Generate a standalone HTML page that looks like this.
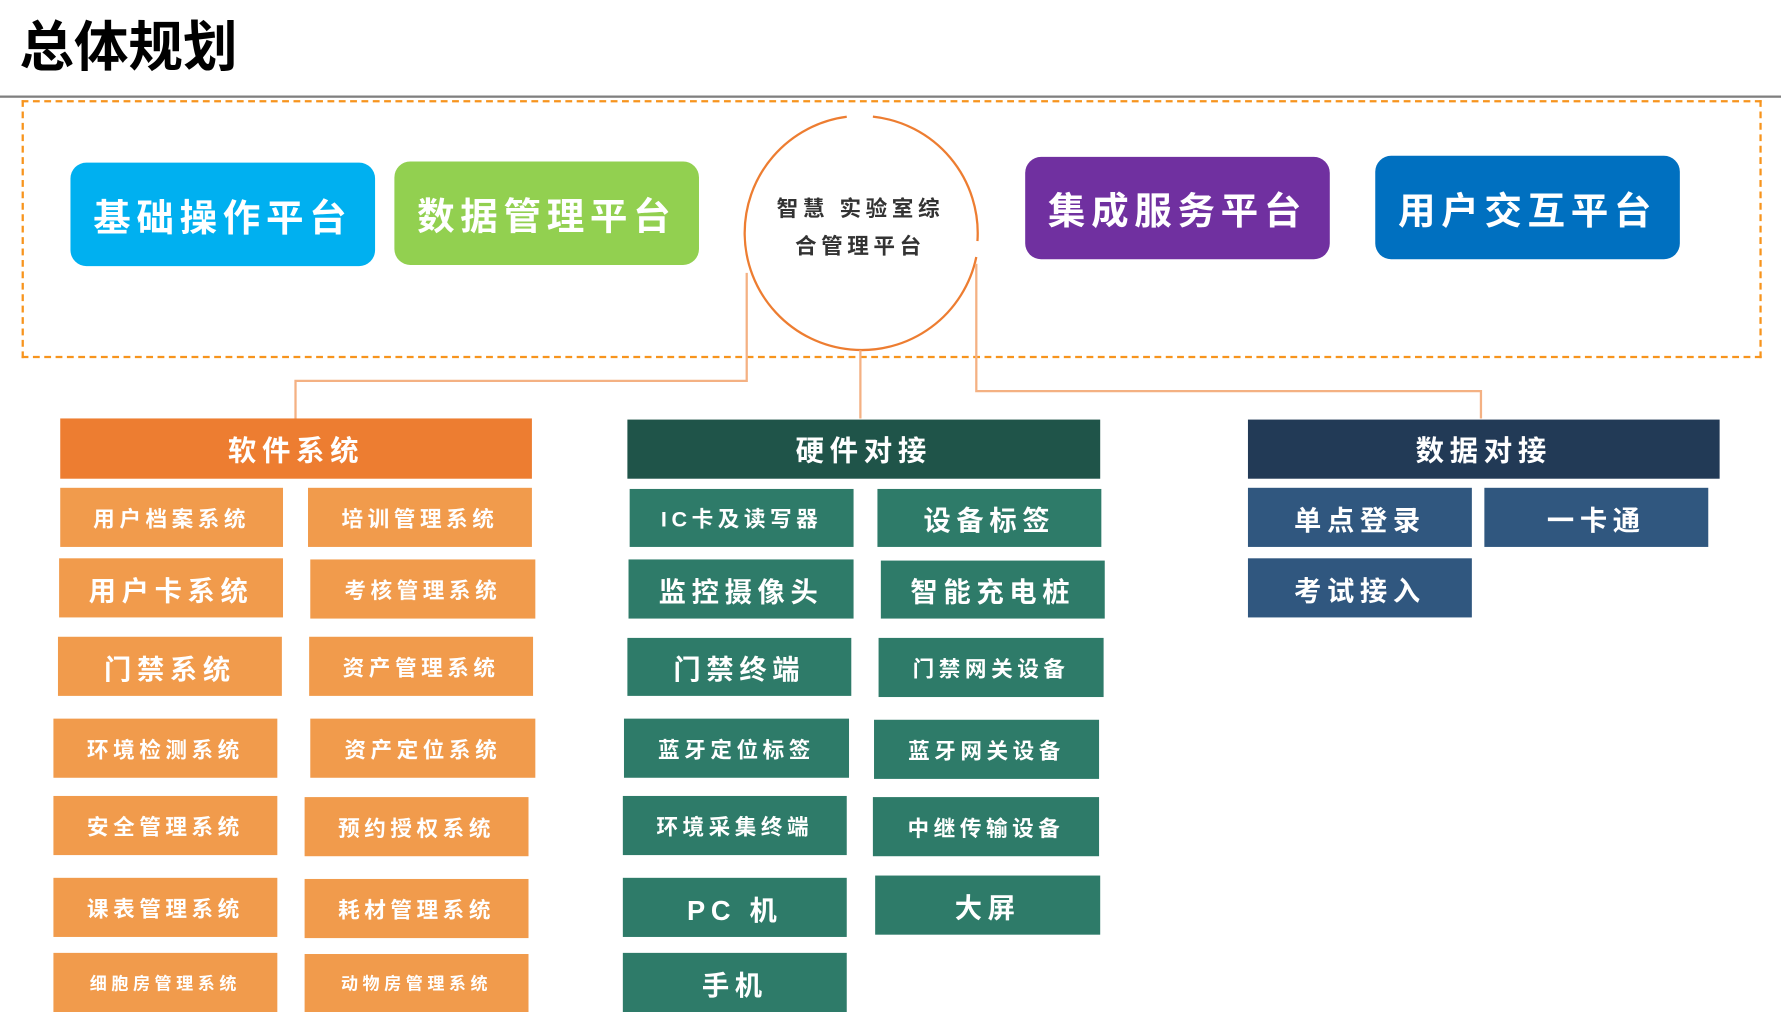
<!DOCTYPE html>
<html><head><meta charset="utf-8"><style>
html,body{margin:0;padding:0;background:#fff;width:1781px;height:1012px;overflow:hidden}
#s{position:absolute;left:0;top:0;width:1567px;height:890px;transform:scale(1.13657,1.13708);transform-origin:0 0;font-family:"Liberation Sans","Noto Sans CJK SC",sans-serif}
.b{position:absolute;display:flex;align-items:center;justify-content:center;color:#fff;font-weight:bold;white-space:nowrap}
.o{background:#f19b4c;font-size:19px;letter-spacing:4px}
.g{background:#2e7b69;font-size:19px;letter-spacing:4px}
.d{background:#30577f;font-size:24px;letter-spacing:5px}
.L{font-size:24px;letter-spacing:5px}
.S{font-size:15px;letter-spacing:4px}
.p{border-radius:14px;font-size:33px;letter-spacing:5px}
.h{font-size:25px;letter-spacing:5px}
</style></head><body><div id="s">
<div style="position:absolute;left:17px;top:2px;font-size:48px;font-weight:bold;color:#000;font-family:'Noto Sans CJK SC',sans-serif">总体规划</div>
<div style="position:absolute;left:0;top:84px;width:1567px;height:2px;background:#7f7f7f"></div>
<div style="position:absolute;left:19px;top:88px;width:1527px;height:223px;border:2.5px dashed #f7941d"></div>
<svg style="position:absolute;left:0;top:0" width="1567" height="890">
<path d="M745 102.7 A103 103 0 1 0 859 226 M768 102.6 A103 103 0 0 1 860 212" fill="none" stroke="#ed7d31" stroke-width="2"/>
<g fill="none" stroke="#f4b183" stroke-width="2">
<path d="M657 240 V335 H260 V368"/>
<path d="M757 308 V368"/>
<path d="M859 232 V344 H1303 V368"/>
</g></svg>
<div style="position:absolute;left:653px;top:168px;width:208px;text-align:center;font-size:19px;font-weight:bold;color:#333;letter-spacing:4px;line-height:33px">智慧 实验室综<br>合管理平台</div>
<div class="b p" style="left:62px;top:143px;width:268px;height:91px;background:#00b0f0">基础操作平台</div>
<div class="b p" style="left:347px;top:142px;width:268px;height:91px;background:#92d050">数据管理平台</div>
<div class="b p" style="left:902px;top:138px;width:268px;height:90px;background:#7030a0">集成服务平台</div>
<div class="b p" style="left:1210px;top:137px;width:268px;height:91px;background:#0070c0">用户交互平台</div>
<div class="b h" style="left:53px;top:368px;width:415px;height:53px;background:#ed7d31">软件系统</div>
<div class="b h" style="left:552px;top:369px;width:416px;height:52px;background:#1f5449">硬件对接</div>
<div class="b h" style="left:1098px;top:369px;width:415px;height:52px;background:#223a56">数据对接</div>

<div class="b o" style="left:53px;top:429px;width:196px;height:52px">用户档案系统</div>
<div class="b o" style="left:271px;top:429px;width:197px;height:52px">培训管理系统</div>
<div class="b o L" style="left:52px;top:491px;width:197px;height:52px">用户卡系统</div>
<div class="b o" style="left:273px;top:492px;width:198px;height:52px">考核管理系统</div>
<div class="b o L" style="left:51px;top:560px;width:197px;height:52px">门禁系统</div>
<div class="b o" style="left:272px;top:560px;width:197px;height:52px">资产管理系统</div>
<div class="b o" style="left:47px;top:632px;width:197px;height:52px">环境检测系统</div>
<div class="b o" style="left:273px;top:632px;width:198px;height:52px">资产定位系统</div>
<div class="b o" style="left:47px;top:700px;width:197px;height:52px">安全管理系统</div>
<div class="b o" style="left:268px;top:701px;width:197px;height:52px">预约授权系统</div>
<div class="b o" style="left:47px;top:772px;width:197px;height:52px">课表管理系统</div>
<div class="b o" style="left:268px;top:773px;width:197px;height:52px">耗材管理系统</div>
<div class="b o S" style="left:47px;top:838px;width:197px;height:52px">细胞房管理系统</div>
<div class="b o S" style="left:268px;top:839px;width:197px;height:51px">动物房管理系统</div>

<div class="b g" style="left:554px;top:430px;width:197px;height:51px">IC卡及读写器</div>
<div class="b g L" style="left:772px;top:430px;width:197px;height:51px">设备标签</div>
<div class="b g L" style="left:553px;top:492px;width:198px;height:52px">监控摄像头</div>
<div class="b g L" style="left:775px;top:493px;width:197px;height:51px">智能充电桩</div>
<div class="b g L" style="left:552px;top:561px;width:197px;height:51px">门禁终端</div>
<div class="b g" style="left:773px;top:561px;width:198px;height:52px">门禁网关设备</div>
<div class="b g" style="left:549px;top:632px;width:198px;height:52px">蓝牙定位标签</div>
<div class="b g" style="left:769px;top:633px;width:198px;height:52px">蓝牙网关设备</div>
<div class="b g" style="left:548px;top:700px;width:197px;height:52px">环境采集终端</div>
<div class="b g" style="left:768px;top:701px;width:199px;height:52px">中继传输设备</div>
<div class="b g L" style="left:548px;top:772px;width:197px;height:52px">PC 机</div>
<div class="b g L" style="left:770px;top:770px;width:198px;height:52px">大屏</div>
<div class="b g L" style="left:548px;top:838px;width:197px;height:52px">手机</div>

<div class="b d" style="left:1098px;top:429px;width:197px;height:52px">单点登录</div>
<div class="b d" style="left:1306px;top:429px;width:197px;height:52px">一卡通</div>
<div class="b d" style="left:1098px;top:491px;width:197px;height:52px">考试接入</div>
</div></body></html>
